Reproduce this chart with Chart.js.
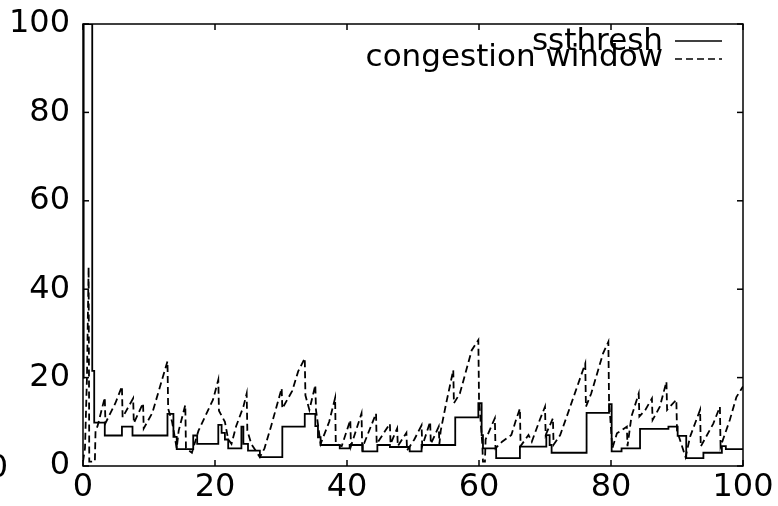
<!DOCTYPE html>
<html><head><meta charset="utf-8">
<script src="https://cdn.jsdelivr.net/npm/chart.js@4"></script>
<style>html,body{margin:0;padding:0;background:#fff}#wrap{width:778px;height:506px;position:relative}</style>
</head><body><div id="wrap"><canvas id="c" width="778" height="506"></canvas></div>
<script>
const xTicks = [0, 20, 40, 60, 80, 100];
const yTicks = [0, 20, 40, 60, 80, 100];
const seriesLabels = ['ssthresh', 'congestion window'];

// ssthresh: change points (value holds until next time)
const ssT = [0, 0.1, 1.4, 1.7, 3.3, 5.9, 7.5, 12.8, 13.7, 14.2, 16.7, 17.3, 20.5, 21.0, 21.5, 22.0, 24.0, 24.3, 25.0, 26.8, 30.2, 33.6, 35.2, 35.6, 36.0, 38.9, 40.4, 42.4, 44.6, 46.5, 49.5, 51.3, 56.4, 59.9, 60.4, 60.6, 62.6, 66.2, 70.2, 70.7, 71.0, 76.3, 79.7, 80.1, 81.6, 84.4, 88.7, 90.1, 91.4, 94.0, 96.8, 97.4, 100];
const ssV = [20, 100, 21.5, 9.8, 6.9, 8.9, 6.9, 11.8, 6.6, 3.8, 6.9, 5.0, 9.3, 7.5, 6.0, 4.0, 8.9, 5.0, 3.5, 2.0, 8.9, 11.8, 9.0, 6.5, 4.75, 4.0, 4.75, 3.3, 4.75, 4.3, 3.3, 4.75, 11.0, 14.2, 7.0, 4.0, 1.8, 4.4, 7.0, 4.75, 3.0, 12.0, 14.0, 3.3, 4.0, 8.4, 8.9, 6.8, 1.8, 3.0, 4.5, 3.8, 3.8];

// congestion window
const cwT = [0, 0.3, 0.6, 0.85, 0.95, 1.8, 1.9, 2.2, 3.3, 3.4, 4.9, 5.9, 6.0, 7.6, 7.7, 9.1, 9.2, 10.5, 12.8, 12.9, 13.5, 14.2, 14.5, 15.5, 15.6, 16.5, 17.5, 18.5, 19.7, 20.5, 20.6, 21.5, 22.0, 22.5, 23.2, 24.3, 24.8, 24.9, 25.5, 26.8, 27.5, 28.5, 30.1, 30.2, 31.7, 32.6, 33.6, 33.7, 34.3, 35.2, 35.3, 36.0, 37.3, 38.2, 38.3, 39.2, 40.5, 40.6, 42.2, 42.3, 44.4, 44.5, 46.5, 46.6, 47.6, 47.7, 49.0, 49.1, 50.2, 51.3, 51.4, 52.6, 52.7, 53.9, 54.0, 54.2, 55.0, 56.1, 56.2, 57.1, 58.9, 59.9, 60.0, 60.5, 60.6, 60.9, 61.0, 62.4, 62.5, 63.5, 64.9, 65.6, 66.2, 66.3, 67.5, 68.0, 69.2, 70.0, 70.1, 71.2, 71.3, 72.3, 73.3, 76.1, 76.2, 77.0, 78.8, 79.6, 79.7, 80.2, 80.9, 82.4, 82.5, 83.1, 84.2, 84.3, 85.2, 86.2, 86.3, 87.4, 88.4, 88.5, 89.9, 90.0, 91.3, 92.0, 93.5, 93.6, 95.5, 96.5, 96.6, 98.0, 99.0, 100];
const cwV = [1, 4, 20, 45, 1, 1, 8, 9, 15.5, 9.7, 14.2, 18, 11, 15.3, 9.7, 14.2, 8.5, 12, 23.7, 13, 10, 4, 8, 13.8, 4, 3, 8, 11.2, 15, 19.5, 12.5, 10, 6, 5, 9, 13.4, 16.4, 8, 5, 2, 4, 9, 17.6, 13, 17, 21.4, 24.4, 16, 12.7, 18.3, 12.7, 5, 10, 15.4, 5, 4.5, 10.4, 4.5, 11.9, 4, 11.9, 5, 9.6, 5, 8.5, 4.5, 7.5, 3.5, 6, 9.2, 4.5, 10, 5, 8.9, 5, 8, 14, 21.7, 14.2, 16.4, 26.2, 28.5, 15.3, 5, 1, 1, 6, 10.8, 4, 5.5, 7, 10.4, 13, 4.5, 7, 5.5, 10.4, 13.4, 7, 10.8, 4.8, 7, 11.2, 23.2, 13.4, 16.4, 25.5, 28.1, 15, 4, 7.4, 8.9, 4.5, 11.2, 16.4, 11.2, 12.7, 15.3, 10.4, 13.4, 19.1, 12.7, 15, 8, 2, 6.7, 12.7, 4.4, 9.6, 13.4, 4.4, 10.4, 15.6, 18];

const toPts = (t, v) => t.map((x, i) => ({x: x, y: v[i]}));
const FONT = 'DejaVu Sans';

const framePlugin = {
  id: 'frame',
  afterDatasetsDraw(chart) {
    const {ctx, chartArea: a, scales: {x, y}} = chart;
    ctx.save();
    ctx.strokeStyle = '#000';
    ctx.lineWidth = 1.5;
    ctx.setLineDash([]);
    ctx.strokeRect(a.left, a.top, a.right - a.left, a.bottom - a.top);
    const L = 6;
    const seg = (x1, y1, x2, y2) => { ctx.beginPath(); ctx.moveTo(x1, y1); ctx.lineTo(x2, y2); ctx.stroke(); };
    xTicks.forEach(v => { const p = x.getPixelForValue(v); seg(p, a.bottom, p, a.bottom - L); seg(p, a.top, p, a.top + L); });
    yTicks.forEach(v => { const p = y.getPixelForValue(v); seg(a.left, p, a.left + L, p); seg(a.right, p, a.right - L, p); });
    // legend (gnuplot style: text right, sample line after)
    ctx.font = '31px "' + FONT + '"';
    ctx.fillStyle = '#000';
    ctx.textAlign = 'right';
    ctx.textBaseline = 'alphabetic';
    const rows = [{base: 50, ly: 41}, {base: 66, ly: 59}];
    chart.data.datasets.forEach((ds, i) => {
      ctx.fillText(ds.label, 663, rows[i].base);
      ctx.lineWidth = 1.5;
      ctx.setLineDash(ds.borderDash || []);
      seg(675, rows[i].ly, 722, rows[i].ly);
    });
    ctx.setLineDash([]);
    // clipped stray label at far left
    ctx.font = '32px "' + FONT + '"';
    ctx.textAlign = 'right';
    ctx.textBaseline = 'middle';
    ctx.fillText('0', 8, 469);
    ctx.restore();
  }
};

new Chart(document.getElementById('c'), {
  type: 'line',
  data: {
    datasets: [
      {label: seriesLabels[0], data: toPts(ssT, ssV), borderColor: '#000', borderWidth: 1.8, stepped: 'before', pointRadius: 0, fill: false},
      {label: seriesLabels[1], data: toPts(cwT, cwV), borderColor: '#000', borderWidth: 1.8, borderDash: [7, 4], pointRadius: 0, fill: false, tension: 0}
    ]
  },
  options: {
    responsive: false,
    animation: false,
    events: [],
    layout: {padding: {top: 24, right: 35, bottom: 0, left: 0}},
    plugins: {legend: {display: false}, tooltip: {enabled: false}},
    scales: {
      x: {
        type: 'linear', min: 0, max: 100,
        afterBuildTicks: s => { s.ticks = xTicks.map(v => ({value: v})); },
        afterFit: s => { s.height = 40; s.paddingLeft = 0; s.paddingRight = 0; },
        grid: {display: false, drawTicks: false},
        border: {display: false},
        ticks: {color: '#000', padding: 2, maxRotation: 0, font: {family: FONT, size: 32}}
      },
      y: {
        type: 'linear', min: 0, max: 100,
        afterBuildTicks: s => { s.ticks = yTicks.map(v => ({value: v})); },
        afterFit: s => { s.width = 83; s.paddingTop = 0; s.paddingBottom = 0; },
        grid: {display: false, drawTicks: false},
        border: {display: false},
        ticks: {color: '#000', padding: 13, font: {family: FONT, size: 32}}
      }
    }
  },
  plugins: [framePlugin]
});
</script>
</body></html>
